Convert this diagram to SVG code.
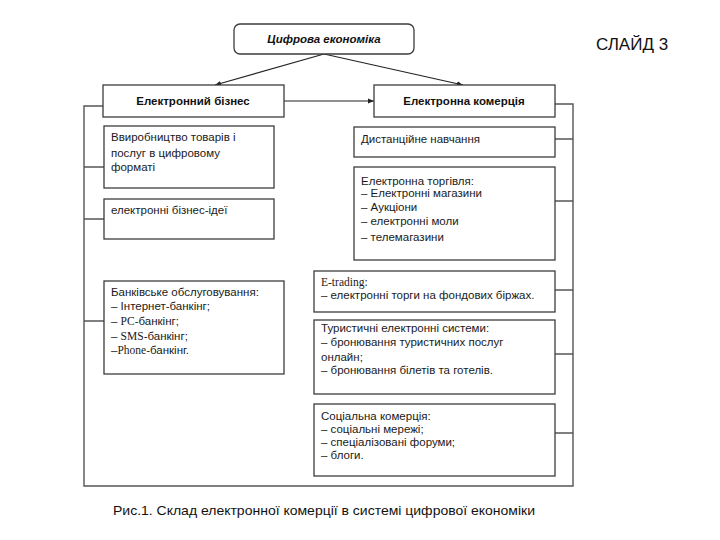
<svg xmlns="http://www.w3.org/2000/svg" width="720" height="540" viewBox="0 0 720 540">
<style>
.box{fill:#fff;stroke:#3c3c3c;stroke-width:1.3}
.con{fill:none;stroke:#555;stroke-width:1.4}
.t{font-family:"Liberation Sans",Arial,sans-serif;font-size:11.5px;fill:#1a1a1a}
.s{font-family:"Liberation Serif","Times New Roman",serif}
.h{font-family:"Liberation Sans",Arial,sans-serif;font-size:11.5px;font-weight:bold;fill:#111;text-anchor:middle}
</style>
<defs>
<marker id="ah" viewBox="0 0 10 10" refX="10" refY="5" markerWidth="6" markerHeight="6" orient="auto" markerUnits="userSpaceOnUse">
<path d="M0,1 L10,5 L0,9 z" fill="#222"/>
</marker>
</defs>
<rect width="720" height="540" fill="#fff"/>
<g id="connectors">
<line class="con" x1="324" y1="54" x2="215" y2="85" marker-end="url(#ah)" style="stroke:#222;stroke-width:1.1"/>
<line class="con" x1="324" y1="54" x2="463" y2="85" marker-end="url(#ah)" style="stroke:#222;stroke-width:1.1"/>
<line class="con" x1="284" y1="101" x2="374" y2="101" marker-end="url(#ah)" style="stroke:#222;stroke-width:1.1"/>
<path class="con" d="M103,106 H84 V486 H573 V104 H555"/>
<path class="con" d="M84,167 H104 M84,219 H104 M84,321 H104"/>
<path class="con" d="M555,139 H573 M555,201 H573 M555,290 H573 M555,354 H573 M555,433 H573"/>
</g>
<g id="n-top">
<rect class="box" x="234" y="24" width="180" height="30" rx="6"/>
<text class="h" x="324" y="43" font-style="italic">Цифрова економіка</text>
</g>
<g id="n-biz">
<rect class="box" x="103" y="85" width="181" height="32"/>
<text class="h" x="193" y="105">Електронний бізнес</text>
</g>
<g id="n-com">
<rect class="box" x="374" y="85" width="181" height="32"/>
<text class="h" x="464" y="105">Електронна комерція</text>
</g>
<g id="n-prod">
<rect class="box" x="104" y="126" width="170" height="62"/>
<text class="t" x="111" y="141">Ввиробництво товарів і</text>
<text class="t" x="111" y="157">послуг в цифровому</text>
<text class="t" x="111" y="171">форматі</text>
</g>
<g id="n-ideas">
<rect class="box" x="104" y="199" width="170" height="40"/>
<text class="t" x="111" y="214">електронні бізнес-ідеї</text>
</g>
<g id="n-bank">
<rect class="box" x="104" y="281" width="180" height="93"/>
<text class="t" x="111" y="296">Банківське обслуговування:</text>
<text class="t" x="111" y="310">– Інтернет-банкінг;</text>
<text class="t" x="111" y="325">– <tspan class="s">PC</tspan>-банкінг;</text>
<text class="t" x="111" y="340">– <tspan class="s">SMS</tspan>-банкінг;</text>
<text class="t" x="111" y="354">–<tspan class="s">Phone</tspan>-банкінг.</text>
</g>
<g id="n-dist">
<rect class="box" x="354" y="127" width="201" height="30"/>
<text class="t" x="361" y="143">Дистанційне навчання</text>
</g>
<g id="n-trade">
<rect class="box" x="354" y="167" width="201" height="93"/>
<text class="t" x="361" y="185">Електронна торгівля:</text>
<text class="t" x="361" y="197">– Електронні магазини</text>
<text class="t" x="361" y="211">– Аукціони</text>
<text class="t" x="361" y="225">– електронні моли</text>
<text class="t" x="361" y="241">– телемагазини</text>
</g>
<g id="n-etrading">
<rect class="box" x="314" y="271" width="241" height="41"/>
<text class="t s" x="321" y="286">E-trading:</text>
<text class="t" x="321" y="299">– електронні торги на фондових біржах.</text>
</g>
<g id="n-tour">
<rect class="box" x="314" y="320" width="241" height="74"/>
<text class="t" x="321" y="332">Туристичні електронні системи:</text>
<text class="t" x="321" y="346">– бронювання туристичних послуг</text>
<text class="t" x="321" y="361">онлайн;</text>
<text class="t" x="321" y="374">– бронювання білетів та готелів.</text>
</g>
<g id="n-social">
<rect class="box" x="314" y="404" width="241" height="72"/>
<text class="t" x="321" y="420">Соціальна комерція:</text>
<text class="t" x="321" y="433">– соціальні мережі;</text>
<text class="t" x="321" y="446">–  спеціалізовані форуми;</text>
<text class="t" x="321" y="459">–  блоги.</text>
</g>
<text x="596" y="50" font-family="Liberation Sans,Arial,sans-serif" font-size="17" fill="#111">СЛАЙД 3</text>
<text x="113" y="515" font-family="Liberation Sans,Arial,sans-serif" font-size="13" fill="#111" textLength="422" lengthAdjust="spacingAndGlyphs">Рис.1. Склад електронної комерції в системі цифрової економіки</text>
</svg>
